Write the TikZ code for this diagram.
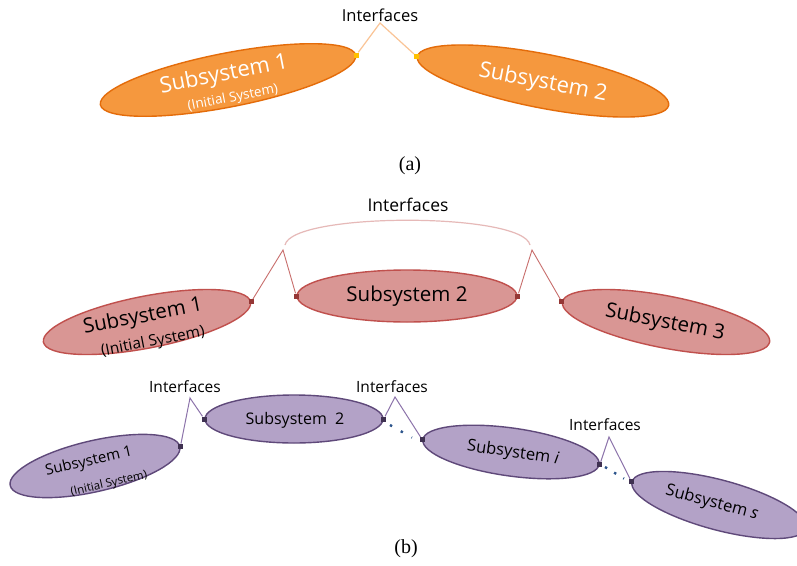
\documentclass[tikz,border=0pt]{standalone}
\usepackage{fontspec}
\setmainfont{Liberation Serif}
\newfontfamily\osans{Open Sans}
\usetikzlibrary{shapes.geometric,calc}
\definecolor{orfill}{RGB}{245,152,62}
\definecolor{ordraw}{RGB}{228,108,10}
\definecolor{orline}{RGB}{250,196,150}
\definecolor{ordot}{RGB}{255,192,0}
\definecolor{rdfill}{RGB}{217,150,148}
\definecolor{rddraw}{RGB}{192,80,77}
\definecolor{rdline}{RGB}{200,110,108}
\definecolor{rdarc}{RGB}{230,185,184}
\definecolor{rddot}{RGB}{149,55,53}
\definecolor{pufill}{RGB}{179,162,199}
\definecolor{pudraw}{RGB}{95,73,122}
\definecolor{puline}{RGB}{140,115,170}
\definecolor{pudot}{RGB}{63,49,81}
\definecolor{bldot}{RGB}{45,85,140}
\tikzset{
  ell/.style={ellipse, inner sep=0pt, line width=1.4pt},
  orell/.style={ell, fill=orfill, draw=ordraw},
  rdell/.style={ell, fill=rdfill, draw=rddraw},
  puell/.style={ell, fill=pufill, draw=pudraw},
  lbl/.style={inner sep=0pt, font=\osans},
  dotbox/.style={rectangle, inner sep=0pt, minimum size=#1},
  ordotbox/.style={dotbox=5pt, fill=ordot},
  rddotbox/.style={dotbox=5pt, fill=rddot},
  pudotbox/.style={dotbox=5pt, fill=pudot},
  orconn/.style={draw=orline, line width=1.2pt},
  rdconn/.style={draw=rdline, line width=0.9pt},
  puconn/.style={draw=puline, line width=1pt},
  bluedots/.style={draw=bldot, line width=2.4pt, dash pattern=#1},
  caption/.style={inner sep=0pt, font=\fontsize{20}{22}\selectfont}
}
\begin{document}
\begin{tikzpicture}[x=1pt,y=-1pt]
\useasboundingbox (0,0) rectangle (797,565);
\clip (0,0) rectangle (797,565);
\fill[white] (0,0) rectangle (797,565);

% ---------------- (a) ----------------
\node[orell, minimum width=260pt, minimum height=54pt, rotate=11] (a1) at (228,80) {};
\node[orell, minimum width=256pt, minimum height=54pt, rotate=-11] (a2) at (543,81) {};
\node[lbl, text=white, rotate=11, font=\osans\fontsize{22}{24}\selectfont] (a1t) at (224,75) {Subsystem 1};
\node[lbl, text=white, rotate=11, font=\osans\fontsize{13.5}{15}\selectfont] (a1s) at (233,98) {(Initial System)};
\node[lbl, text=white, rotate=-11, font=\osans\fontsize{22}{24}\selectfont] (a2t) at (543,83) {Subsystem 2};
\node[lbl, font=\osans\fontsize{16.5}{18}\selectfont] (aif) at (380,15) {Interfaces};
\coordinate (aap) at (380,23);
\node[ordotbox] (ad1) at (a1.east) {};
\node[ordotbox] (ad2) at (a2.west) {};
\draw[orconn] (ad1) -- (aap) -- (ad2);
\node[caption] (cap-a) at (410,166) {(a)};

% ---------------- (b) red row ----------------
\node[rdell, minimum width=211pt, minimum height=52pt, rotate=11] (r1) at (147,322) {};
\node[rdell, minimum width=220pt, minimum height=52pt] (r2) at (407,296) {};
\node[rdell, minimum width=211pt, minimum height=52pt, rotate=-11] (r3) at (666,322) {};
\node[lbl, rotate=11, font=\osans\fontsize{20.5}{22}\selectfont] (r1t) at (143,317) {Subsystem 1};
\node[lbl, rotate=11, font=\osans\fontsize{15.5}{17}\selectfont] (r1s) at (153,342) {(Initial System)};
\node[lbl, font=\osans\fontsize{20.5}{22}\selectfont] (r2t) at (407,296) {Subsystem 2};
\node[lbl, rotate=-11, font=\osans\fontsize{20.5}{22}\selectfont] (r3t) at (665,323) {Subsystem 3};
\node[lbl, font=\osans\fontsize{17.5}{19}\selectfont] (rif) at (408,205) {Interfaces};
\coordinate (rapl) at (283,250);
\coordinate (rapr) at (532,250);
\node[rddotbox] (rd1) at (r1.east) {};
\node[rddotbox] (rd2) at (r2.west) {};
\node[rddotbox] (rd3) at (r2.east) {};
\node[rddotbox] (rd4) at (r3.west) {};
\draw[rdconn] (rd1) -- (rapl) -- (rd2);
\draw[rdconn] (rd3) -- (rapr) -- (rd4);
\draw[draw=rdarc, line width=1.2pt] ($(rapl)+(2,-5)$) .. controls (292,212) and (523,212) .. ($(rapr)+(-2,-5)$);

% ---------------- (b) purple row ----------------
\node[puell, minimum width=174pt, minimum height=51pt, rotate=13] (p1) at (95,466) {};
\node[puell, minimum width=178pt, minimum height=48pt] (p2) at (294,419) {};
\node[puell, minimum width=178pt, minimum height=48pt, rotate=-8] (pi) at (511,452) {};
\node[puell, minimum width=180pt, minimum height=50pt, rotate=-15] (ps) at (719,505) {};
\node[lbl, rotate=13, font=\osans\fontsize{15}{17}\selectfont] (p1t) at (89,462) {Subsystem 1};
\node[lbl, rotate=13, font=\osans\fontsize{11.5}{13}\selectfont] (p1s) at (109,484) {(Initial System)};
\node[lbl, font=\osans\fontsize{16}{18}\selectfont] (p2t) at (295,420) {Subsystem\ \ 2};
\node[lbl, rotate=-8, font=\osans\fontsize{16.5}{18}\selectfont] (pit) at (513,453) {Subsystem \textit{i}};
\node[lbl, rotate=-15, font=\osans\fontsize{16.5}{18}\selectfont] (pst) at (712,503) {Subsystem \textit{s}};
\node[lbl, font=\osans\fontsize{15.5}{17}\selectfont] (pif1) at (185,387) {Interfaces};
\node[lbl, font=\osans\fontsize{15.5}{17}\selectfont] (pif2) at (392,387) {Interfaces};
\node[lbl, font=\osans\fontsize{15.5}{17}\selectfont] (pif3) at (605,425) {Interfaces};
\coordinate (pap1) at (190,398);
\coordinate (pap2) at (395,397);
\coordinate (pap3) at (609,437);
\node[pudotbox] (pd1) at (p1.east) {};
\node[pudotbox] (pd2) at (p2.west) {};
\node[pudotbox] (pd3) at (p2.east) {};
\node[pudotbox] (pd4) at (pi.west) {};
\node[pudotbox] (pd5) at (pi.east) {};
\node[pudotbox] (pd6) at (ps.west) {};
\draw[puconn] (pd1) -- (pap1) -- (pd2);
\draw[puconn] (pd3) -- (pap2) -- (pd4);
\draw[puconn] (pd5) -- (pap3) -- (pd6);
\coordinate (bd1s) at (390,425);
\coordinate (bd1e) at (412,437.6);
\coordinate (bd2s) at (605,467);
\coordinate (bd2e) at (624,478.6);
\draw[bluedots={on 2.4pt off 10pt}] (bd1s) -- (bd1e);
\draw[bluedots={on 2.4pt off 8.3pt}] (bd2s) -- (bd2e);
\node[caption] (cap-b) at (406,549) {(b)};
\end{tikzpicture}
\end{document}
